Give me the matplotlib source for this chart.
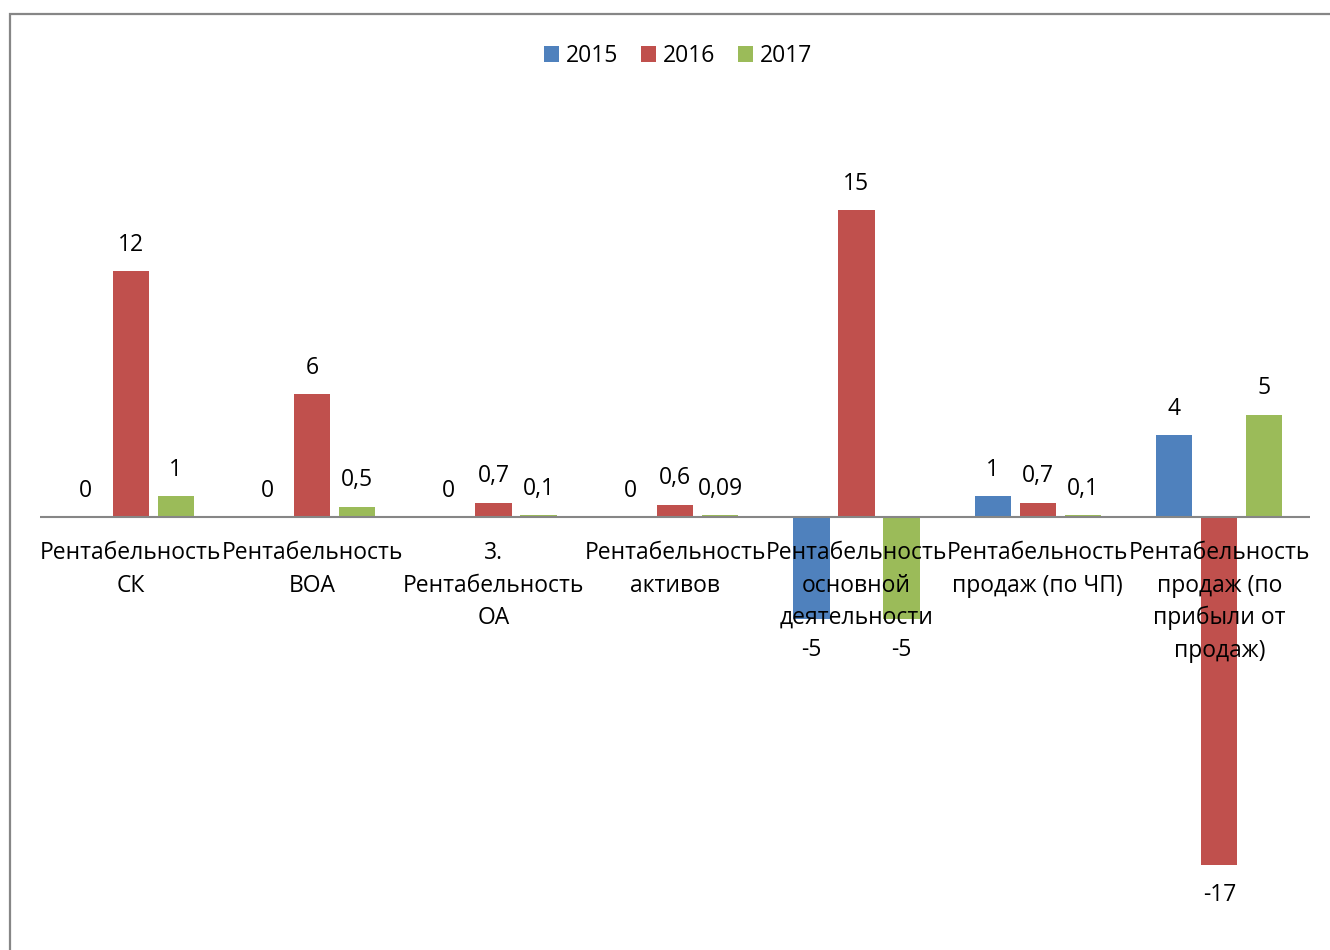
import matplotlib
matplotlib.use("Agg")
import matplotlib.pyplot as plt
from matplotlib.patches import Rectangle
import numpy as np

plt.rcParams['font.family'] = ['Open Sans', 'DejaVu Sans']

categories = [
    "Рентабельность\nСК",
    "Рентабельность\nВОА",
    "3.\nРентабельность\nОА",
    "Рентабельность\nактивов",
    "Рентабельность\nосновной\nдеятельности",
    "Рентабельность\nпродаж (по ЧП)",
    "Рентабельность\nпродаж (по\nприбыли от\nпродаж)",
]
years = ["2015", "2016", "2017"]
values_2015 = [0, 0, 0, 0, -5, 1, 4]
values_2016 = [12, 6, 0.7, 0.6, 15, 0.7, -17]
values_2017 = [1, 0.5, 0.1, 0.09, -5, 0.1, 5]
colors = ["#4F81BD", "#C0504D", "#9BBB59"]

W, H = 1330, 950
fig = plt.figure(figsize=(W / 100, H / 100), dpi=100)

# chart frame (only the top and left edges fall inside the canvas)
fig.patches.append(Rectangle((10 / W, -0.1), 1.2, 1 - 14 / H + 0.1,
                             transform=fig.transFigure, fill=False,
                             edgecolor="#868686", linewidth=1.6))

ax = fig.add_axes([40 / W, 1 - 930 / H, 1270 / W, 830 / H])
x = np.arange(len(categories))
offsets = [-0.248, 0.0, 0.248]
width = 0.2
series = [values_2015, values_2016, values_2017]

fs = 16.5
for vals, off, col, yr in zip(series, offsets, colors, years):
    ax.bar(x + off, vals, width, color=col, label=yr, zorder=1)
    for xi, v in zip(x + off, vals):
        txt = f"{v:g}".replace(".", ",")
        dy = 19 if v >= 0 else -22
        ax.annotate(txt, (xi, v), xytext=(0, dy), textcoords="offset points",
                    ha="center", va="center", fontsize=fs, color="black")

ax.set_xlim(-0.5, len(categories) - 0.5)
ax.set_ylim(-20.18, 20.37)
ax.axhline(0, color="#868686", linewidth=1.5, zorder=2)
for s in ax.spines.values():
    s.set_visible(False)
ax.set_yticks([])
ax.set_xticks([])

# category labels under the zero line, drawn above the bars
for xi, lab in zip(x, categories):
    ax.annotate(lab, (xi, 0), xytext=(0, -17.5), textcoords="offset points",
                ha="center", va="top", fontsize=fs, linespacing=1.46, zorder=5)

fig.legend(loc="center", bbox_to_anchor=(678 / W, 1 - 56 / H), ncol=3,
           frameon=False, fontsize=fs, handlelength=0.65, handleheight=0.65,
           handletextpad=0.3, columnspacing=1.0)

fig.savefig("out.png", dpi=100, facecolor="white")
